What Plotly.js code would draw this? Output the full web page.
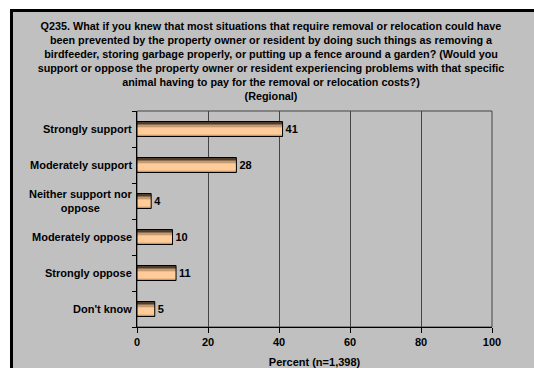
<!DOCTYPE html>
<html>
<head>
<meta charset="utf-8">
<script src="https://cdn.plot.ly/plotly-3.0.1.min.js"></script>
<style>
  html, body { margin: 0; padding: 0; background: #ffffff; overflow: hidden; }
  #chart { width: 534px; height: 368px; }
</style>
</head>
<body>
<div id="chart"></div>
<script>
// ---- data ----
const categories = ["Strongly support", "Moderately support", "Neither support nor<br>oppose", "Moderately oppose", "Strongly oppose", "Don't know"];
const values = [41, 28, 4, 10, 11, 5];
const valueLabels = ["41", "28", "4", "10", "11", "5"];
const xTickValues = [0, 20, 40, 60, 80, 100];
const titleText = "Q235. What if you knew that most situations that require removal or relocation could have<br>" +
  "been prevented by the property owner or resident by doing such things as removing a<br>" +
  "birdfeeder, storing garbage properly, or putting up a fence around a garden? (Would you<br>" +
  "support or oppose the property owner or resident experiencing problems with that specific<br>" +
  "animal having to pay for the removal or relocation costs?)<br>" +
  "(Regional)";
const xTitle = "Percent (n=1,398)";

// ---- styling ----
const FONT = "Liberation Sans, Arial, sans-serif";
const W = 534, HT = 368;
const M = { l: 137, r: 42, t: 111, b: 41 };
const PW = W - M.l - M.r, PH = HT - M.t - M.b;
const px2x = p => (p - M.l) / PW;
const py2y = p => (HT - M.b - p) / PH;

const BAND = PH / categories.length;
const H = 15;
const top0 = -(H / 2) / BAND;
const layers = [
  [0, 15, "#4f3d2c"],
  [2, 15, "#8c6c4e"],
  [3, 14, "#c39a72"],
  [5, 13, "#edbb8c"],
  [6, 12, "#ffcc99"]
];

const yPos = categories.map((c, i) => i);
const traces = layers.map(([a, b, col]) => ({
  type: "bar", orientation: "h",
  x: values, y: yPos,
  offset: top0 + a / BAND, width: (b - a) / BAND,
  marker: { color: col, line: { width: 0 } },
  hoverinfo: "skip", showlegend: false
}));
traces.push({
  type: "bar", orientation: "h",
  x: values, y: yPos,
  offset: top0, width: H / BAND,
  marker: { color: "rgba(0,0,0,0)", line: { color: "#000", width: 1 } },
  text: valueLabels, textposition: "outside",
  textfont: { family: FONT, size: 11, color: "#000", weight: "bold" },
  cliponaxis: false, hoverinfo: "skip", showlegend: false
});

const annotations = categories.map((c, i) => ({
  xref: "paper", yref: "y",
  x: px2x(134), y: i,
  xanchor: "right", yanchor: "middle", align: "center",
  text: c, showarrow: false,
  font: { family: FONT, size: 11, color: "#000", weight: "bold" }
}));

const layout = {
  width: W, height: HT,
  paper_bgcolor: "#ffffff",
  plot_bgcolor: "rgba(0,0,0,0)",
  margin: M,
  barmode: "overlay", bargap: 0,
  font: { family: FONT, size: 11, color: "#000" },
  title: {
    text: titleText,
    font: { family: FONT, size: 10.8, color: "#000", weight: "bold" },
    xref: "container", x: 271 / W, xanchor: "center",
    yref: "container", y: 1 - 30 / HT, yanchor: "top"
  },
  xaxis: {
    range: [0, 100], tickvals: xTickValues,
    ticks: "outside", ticklen: 5, tickcolor: "#000", tickwidth: 1,
    showline: true, linecolor: "#000", linewidth: 1,
    showgrid: true, gridcolor: "#444", gridwidth: 1, zeroline: false,
    tickfont: { family: FONT, size: 11, color: "#000", weight: "bold" },
    title: { text: xTitle, standoff: 12, font: { family: FONT, size: 11, color: "#000", weight: "bold" } },
    fixedrange: true
  },
  yaxis: {
    range: [5.5, -0.5],
    tickvals: [-0.5, 0.5, 1.5, 2.5, 3.5, 4.5, 5.5],
    ticktext: ["", "", "", "", "", "", ""],
    ticks: "outside", ticklen: 4, tickcolor: "#000", tickwidth: 1,
    showline: true, linecolor: "#000", linewidth: 1,
    showgrid: false, zeroline: false, fixedrange: true
  },
  shapes: [
    { type: "rect", xref: "paper", yref: "paper",
      x0: px2x(10), x1: px2x(540), y0: py2y(375), y1: py2y(9),
      line: { width: 0 }, fillcolor: "#c0c0c0", layer: "below" },
    { type: "line", xref: "paper", yref: "paper",
      x0: px2x(11.5), x1: px2x(11.5), y0: py2y(375), y1: py2y(9),
      line: { color: "#000", width: 3 }, layer: "below" },
    { type: "line", xref: "paper", yref: "paper",
      x0: px2x(10), x1: px2x(540), y0: py2y(10.5), y1: py2y(10.5),
      line: { color: "#000", width: 3 }, layer: "below" },
    { type: "rect", xref: "paper", yref: "paper", x0: 0, x1: 1, y0: 0, y1: 1,
      line: { color: "#444", width: 1 }, fillcolor: "rgba(0,0,0,0)", layer: "below" }
  ],
  annotations: annotations
};

Plotly.newPlot("chart", traces, layout, { staticPlot: true, displayModeBar: false });
</script>
</body>
</html>
